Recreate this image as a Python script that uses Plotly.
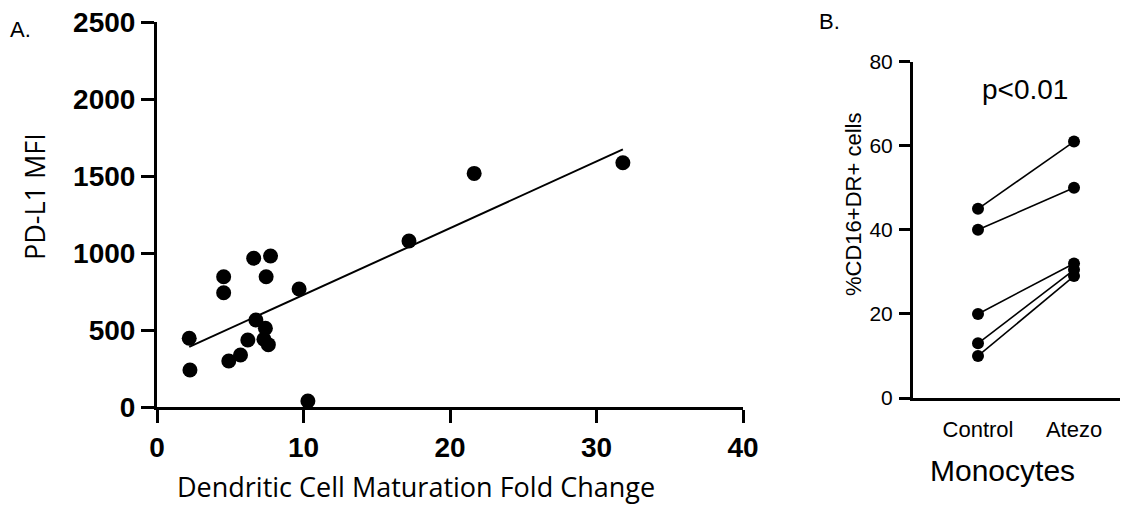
import numpy as np
import plotly.graph_objects as go

# Panel A data
dc_fold_change = [2.2, 2.25, 4.55, 4.55, 4.9, 5.7, 6.2, 6.6, 6.75, 7.4, 7.3, 7.6, 7.45, 7.75, 9.7, 10.3, 17.2, 21.65, 31.8]
pdl1_mfi = [446, 240, 846, 742, 299, 338, 435, 966, 565, 511, 440, 405, 846, 981, 766, 39, 1078, 1517, 1586]

# Panel B data
groups = ["Control", "Atezo"]
control_vals = [45, 40, 20, 13, 10]
atezo_vals = [61, 50, 32, 30.5, 29]

# page body has an 8px default margin; size the figure to fit inside the window
OFF = 8
W, H = 1133 - 2 * OFF, 513 - 2 * OFF
def px(x):
    return (x - OFF) / W
def py(y):
    return 1 - (y - OFF) / H

fig = go.Figure()

# regression line
slope, intercept = np.polyfit(dc_fold_change, pdl1_mfi, 1)
xfit = np.array([min(dc_fold_change), max(dc_fold_change)])
fig.add_trace(go.Scatter(x=xfit, y=slope * xfit + intercept, mode="lines",
                         line=dict(color="black", width=2), xaxis="x", yaxis="y",
                         showlegend=False, hoverinfo="skip"))
fig.add_trace(go.Scatter(x=dc_fold_change, y=pdl1_mfi, mode="markers",
                         marker=dict(color="black", size=15), xaxis="x", yaxis="y",
                         cliponaxis=False, showlegend=False))

for c, a in zip(control_vals, atezo_vals):
    fig.add_trace(go.Scatter(x=groups, y=[c, a], mode="lines+markers",
                             line=dict(color="black", width=1.6),
                             marker=dict(color="black", size=12),
                             xaxis="x2", yaxis="y2", cliponaxis=False, showlegend=False))

axis_common = dict(showgrid=False, zeroline=False, showline=True, linecolor="black",
                   linewidth=3, ticks="outside", tickcolor="black", tickwidth=3,
                   automargin=False, ticklabeloverflow="allow")

fig.update_layout(
    width=W, height=H,
    margin=dict(l=0, r=0, t=0, b=0, autoexpand=False),
    plot_bgcolor="white", paper_bgcolor="white",
    xaxis=dict(domain=[px(157), px(743)], range=[0, 40], tickvals=[0, 10, 20, 30, 40],
               ticklen=13, anchor="y",
               tickfont=dict(family="Liberation Sans", size=28, color="black", weight="bold"),
               **axis_common),
    yaxis=dict(domain=[py(407), py(22)], range=[0, 2500], tickvals=[0, 500, 1000, 1500, 2000, 2500],
               ticklen=13, anchor="x",
               tickfont=dict(family="Liberation Sans", size=28, color="black", weight="bold"),
               **axis_common),
    xaxis2=dict(domain=[px(913), px(1120)], type="category", range=[-0.677, 1.479],
                showgrid=False, zeroline=False, showline=True, linecolor="black", linewidth=3,
                ticks="", anchor="y2", automargin=False, ticklabeloverflow="allow",
                ticklabelstandoff=10,
                tickfont=dict(family="Liberation Sans", size=22, color="black")),
    yaxis2=dict(domain=[py(398), py(61.7)], range=[0, 80], tickvals=[0, 20, 40, 60, 80],
                ticklen=11, anchor="x2", ticklabelstandoff=2, automargin=False,
                ticklabeloverflow="allow",
                tickfont=dict(family="Liberation Sans", size=21, color="black"),
                showgrid=False, zeroline=False, showline=True, linecolor="black",
                linewidth=3, ticks="outside", tickcolor="black", tickwidth=2.5),
    annotations=[
        dict(text="A.", x=px(8), y=py(30), xref="paper", yref="paper", xanchor="left", yanchor="middle",
             showarrow=False, font=dict(family="Liberation Sans", size=22, color="black")),
        dict(text="B.", x=px(817), y=py(22), xref="paper", yref="paper", xanchor="left", yanchor="middle",
             showarrow=False, font=dict(family="Liberation Sans", size=22, color="black")),
        dict(text="PD-L1 MFI", x=px(35), y=py(197), xref="paper", yref="paper", textangle=-90,
             xanchor="center", yanchor="middle", showarrow=False,
             font=dict(family="Open Sans", size=27, color="black")),
        dict(text="Dendritic Cell Maturation Fold Change", x=px(416), y=py(486), xref="paper", yref="paper",
             xanchor="center", yanchor="middle", showarrow=False,
             font=dict(family="Open Sans", size=27, color="black")),
        dict(text="%CD16+DR+ cells", x=px(853), y=py(205), xref="paper", yref="paper", textangle=-90,
             xanchor="center", yanchor="middle", showarrow=False,
             font=dict(family="Liberation Sans", size=22, color="black")),
        dict(text="p<0.01", x=px(1025), y=py(90), xref="paper", yref="paper",
             xanchor="center", yanchor="middle", showarrow=False,
             font=dict(family="Liberation Sans", size=28, color="black")),
        dict(text="Monocytes", x=px(1002), y=py(470), xref="paper", yref="paper",
             xanchor="center", yanchor="middle", showarrow=False,
             font=dict(family="Liberation Sans", size=30, color="black")),
    ],
)

fig.write_html("out.html")
